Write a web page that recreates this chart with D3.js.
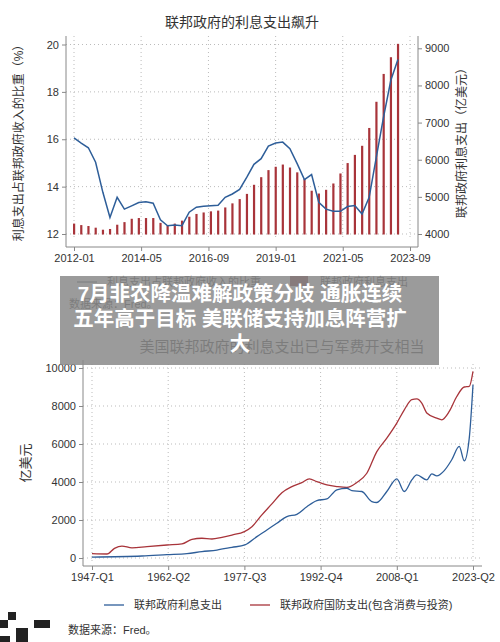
<!DOCTYPE html><html><head><meta charset="utf-8"><script src="https://cdn.jsdelivr.net/npm/d3@7"></script>
<style>body{margin:0;background:#fff}text{font-family:"Liberation Sans","Noto Sans CJK SC",sans-serif}</style></head><body>
<svg id="c" width="500" height="642"></svg>
<script>
// top chart data (quarterly from 2012Q1)
const topBars=[4280,4240,4215,4170,4115,4135,4250,4320,4410,4430,4430,4430,4300,4230,4280,4360,4465,4540,4580,4610,4630,4715,4825,4940,5080,5325,5530,5720,5810,5870,5790,5660,5480,5165,5090,5190,5360,5630,5910,6130,6375,6855,7560,8310,8760,9120];
const topRatio=[16.06,15.84,15.64,15.03,13.76,12.70,13.55,13.05,13.19,13.33,13.36,13.30,12.6,12.35,12.38,12.35,12.92,13.13,13.17,13.19,13.21,13.55,13.69,13.88,14.40,14.94,15.18,15.71,15.84,15.88,15.60,14.97,14.30,14.51,13.34,13.05,12.96,12.96,13.16,13.20,12.84,13.55,15.25,16.94,18.49,19.37];
const topXTicks=["2012-01","2014-05","2016-09","2019-01","2021-05","2023-09"];
const leftTicks=[12,14,16,18,20], rightTicks=[4000,5000,6000,7000,8000,9000];
// bottom chart data [year, value 亿美元]
const interest=[[1947,50],[1957,105],[1962,175],[1966,230],[1969,335],[1972,420],[1975,560],[1977.6,685],[1980,1125],[1982,1475],[1984,1830],[1986,2180],[1988,2300],[1990,2700],[1992,3020],[1994,3110],[1996,3590],[1998,3670],[1999,3550],[2001,3500],[2003,2970],[2004,2920],[2006,3500],[2008,4165],[2009.5,3500],[2011,4110],[2012,4375],[2014,4110],[2015,4430],[2016,4320],[2017.5,4600],[2019,5170],[2020.5,5870],[2021.5,5110],[2022.5,6310],[2023.25,9120]];
const defense=[[1947,230],[1950,210],[1951.5,510],[1953,630],[1955,530],[1958,600],[1962,685],[1965,740],[1967,985],[1969,1040],[1971,1000],[1973,1090],[1975,1210],[1977.5,1390],[1979,1650],[1981,2270],[1983,2850],[1985,3440],[1987,3760],[1989,3970],[1990.5,4165],[1992,4020],[1994,3850],[1996,3760],[1998,3710],[2000,3970],[2002,4460],[2004,5600],[2006,6310],[2008,7100],[2009.5,7800],[2011,8330],[2012,8370],[2013,8150],[2014,7630],[2016,7360],[2017,7275],[2018.5,7715],[2020,8500],[2021.5,9000],[2022.5,9030],[2023.25,9820]];
const botXTicks=[["1947-Q1",1947],["1962-Q2",1962.25],["1977-Q3",1977.5],["1992-Q4",1992.75],["2008-Q1",2008],["2023-Q2",2023.25]];
const botYTicks=[0,2000,4000,6000,8000,10000];

const svg=d3.select("#c");
const grid="#bbb",axc="#888",txt="#333",blue="#2e5e99",red="#a8343a";
const parse=d3.timeParse("%Y-%m");
const x1=d3.scaleTime().domain([parse("2012-01"),parse("2023-09")]).range([74,410]);
const yl=d3.scaleLinear().domain([12,20]).range([234,44.5]);
const yr=d3.scaleLinear().domain([4000,9000]).range([234,48.3]);
const qd=i=>new Date(2012,i*3,1);
const g1=svg.append("g");
g1.append("text").attr("x",242).attr("y",27).attr("text-anchor","middle").attr("font-size",14).attr("fill",txt).text("联邦政府的利息支出飙升");
topXTicks.forEach(t=>g1.append("line").attr("x1",x1(parse(t))).attr("x2",x1(parse(t))).attr("y1",36).attr("y2",240).attr("stroke",grid).attr("stroke-dasharray","1,3"));
leftTicks.forEach(t=>g1.append("line").attr("x1",66).attr("x2",418).attr("y1",yl(t)).attr("y2",yl(t)).attr("stroke",grid).attr("stroke-dasharray","1,3"));
g1.selectAll(".b").data(topBars).join("rect").attr("x",(d,i)=>x1(qd(i))-1).attr("width",2.2).attr("y",d=>yr(d)).attr("height",d=>yr(4000)-yr(d)+0.5).attr("fill",red);
g1.append("path").datum(topRatio).attr("d",d3.line().x((d,i)=>x1(qd(i))).y(d=>yl(d))).attr("fill","none").attr("stroke",blue).attr("stroke-width",1.5);
const ax1=g1.append("g").attr("transform","translate(66,0)").call(d3.axisLeft(yl).tickValues(leftTicks).tickSize(4));
const ax2=g1.append("g").attr("transform","translate(418,0)").call(d3.axisRight(yr).tickValues(rightTicks).tickFormat(d3.format("d")).tickSize(4));
const ax3=g1.append("g").attr("transform","translate(0,247)").call(d3.axisBottom(x1).tickValues(topXTicks.map(parse)).tickFormat(d3.timeFormat("%Y-%m")).tickSize(4));
[ax1,ax2,ax3].forEach(a=>{a.selectAll("path,line").attr("stroke",axc);a.selectAll("text").attr("font-size",11).attr("fill",txt)});
ax3.select(".domain").attr("d","M66,0H418");
ax1.select(".domain").attr("d","M0,36V247");ax2.select(".domain").attr("d","M0,36V247");
g1.append("text").attr("transform","translate(23,140) rotate(-90)").attr("text-anchor","middle").attr("font-size",12).attr("fill",txt).text("利息支出占联邦政府收入的比重（%）");
g1.append("text").attr("transform","translate(466,140) rotate(-90)").attr("text-anchor","middle").attr("font-size",12).attr("fill",txt).text("联邦政府利息支出（亿美元）");
g1.append("line").attr("x1",77).attr("x2",97).attr("y1",282).attr("y2",282).attr("stroke","#234");
g1.append("text").attr("x",107).attr("y",286).attr("font-size",11).attr("fill",txt).text("利息支出占联邦政府收入的比重");
g1.append("rect").attr("x",290).attr("y",276).attr("width",18).attr("height",10).attr("fill","#7a2a2e");
g1.append("text").attr("x",320).attr("y",286).attr("font-size",11).attr("fill",txt).text("联邦政府利息支出");
g1.append("text").attr("x",69).attr("y",308).attr("font-size",11).attr("fill",txt).text("数据来源：Fred。");
// ---- bottom chart
const x2=d3.scaleLinear().domain([1947,2023.25]).range([92,473]);
const y2=d3.scaleLinear().domain([0,10000]).range([558,368]);
const g2=svg.append("g");
g2.append("text").attr("x",282).attr("y",352).attr("text-anchor","middle").attr("font-size",15).attr("fill",txt).text("美国联邦政府的利息支出已与军费开支相当");
botXTicks.forEach(t=>g2.append("line").attr("x1",x2(t[1])).attr("x2",x2(t[1])).attr("y1",364).attr("y2",562).attr("stroke",grid).attr("stroke-dasharray","1,3"));
botYTicks.forEach(t=>g2.append("line").attr("x1",83).attr("x2",482).attr("y1",y2(t)).attr("y2",y2(t)).attr("stroke",grid).attr("stroke-dasharray","1,3"));
const ln=d3.line().x(d=>x2(d[0])).y(d=>y2(d[1])).curve(d3.curveMonotoneX);
g2.append("path").datum(defense).attr("d",ln).attr("fill","none").attr("stroke",red).attr("stroke-width",1.3);
g2.append("path").datum(interest).attr("d",ln).attr("fill","none").attr("stroke",blue).attr("stroke-width",1.3);
const b1=g2.append("g").attr("transform","translate(83,0)").call(d3.axisLeft(y2).tickValues(botYTicks).tickFormat(d3.format("d")).tickSize(4));
const b2=g2.append("g").attr("transform","translate(0,566)").call(d3.axisBottom(x2).tickValues(botXTicks.map(d=>d[1])).tickFormat((d,i)=>botXTicks[i][0]).tickSize(4));
[b1,b2].forEach(a=>{a.selectAll("path,line").attr("stroke",axc);a.selectAll("text").attr("font-size",11).attr("fill",txt)});
b1.select(".domain").attr("d","M0,360V566");b2.select(".domain").attr("d","M83,0H482");
g2.append("text").attr("transform","translate(30,463) rotate(-90)").attr("text-anchor","middle").attr("font-size",13).attr("fill",txt).text("亿美元");
g2.append("line").attr("x1",104).attr("x2",124).attr("y1",605).attr("y2",605).attr("stroke",blue).attr("stroke-width",1.3);
g2.append("text").attr("x",134).attr("y",609).attr("font-size",11).attr("fill",txt).text("联邦政府利息支出");
g2.append("line").attr("x1",250).attr("x2",270).attr("y1",605).attr("y2",605).attr("stroke",red).attr("stroke-width",1.3);
g2.append("text").attr("x",280).attr("y",609).attr("font-size",11).attr("fill",txt).text("联邦政府国防支出(包含消费与投资)");
g2.append("text").attr("x",68).attr("y",634).attr("font-size",11).attr("fill",txt).text("数据来源：Fred。");
[[0,620,8,8],[8,612,8,8],[16,628,12,14],[34,620,16,8],[0,636,10,6]].forEach(r=>svg.append("rect").attr("x",r[0]).attr("y",r[1]).attr("width",r[2]).attr("height",r[3]).attr("fill","#222"));
// overlay banner
svg.append("rect").attr("x",60).attr("y",276).attr("width",379).attr("height",89).attr("fill","#8a8a8a").attr("opacity",0.85);
const hl=["7月非农降温难解政策分歧 通胀连续","五年高于目标 美联储支持加息阵营扩","大"];
hl.forEach((t,i)=>svg.append("text").attr("x",240).attr("y",[301,326,351][i]).attr("text-anchor","middle").attr("font-size",20.5).attr("font-weight","bold").attr("fill","#fff").attr("font-family","Noto Sans CJK SC").text(t));
</script></body></html>
